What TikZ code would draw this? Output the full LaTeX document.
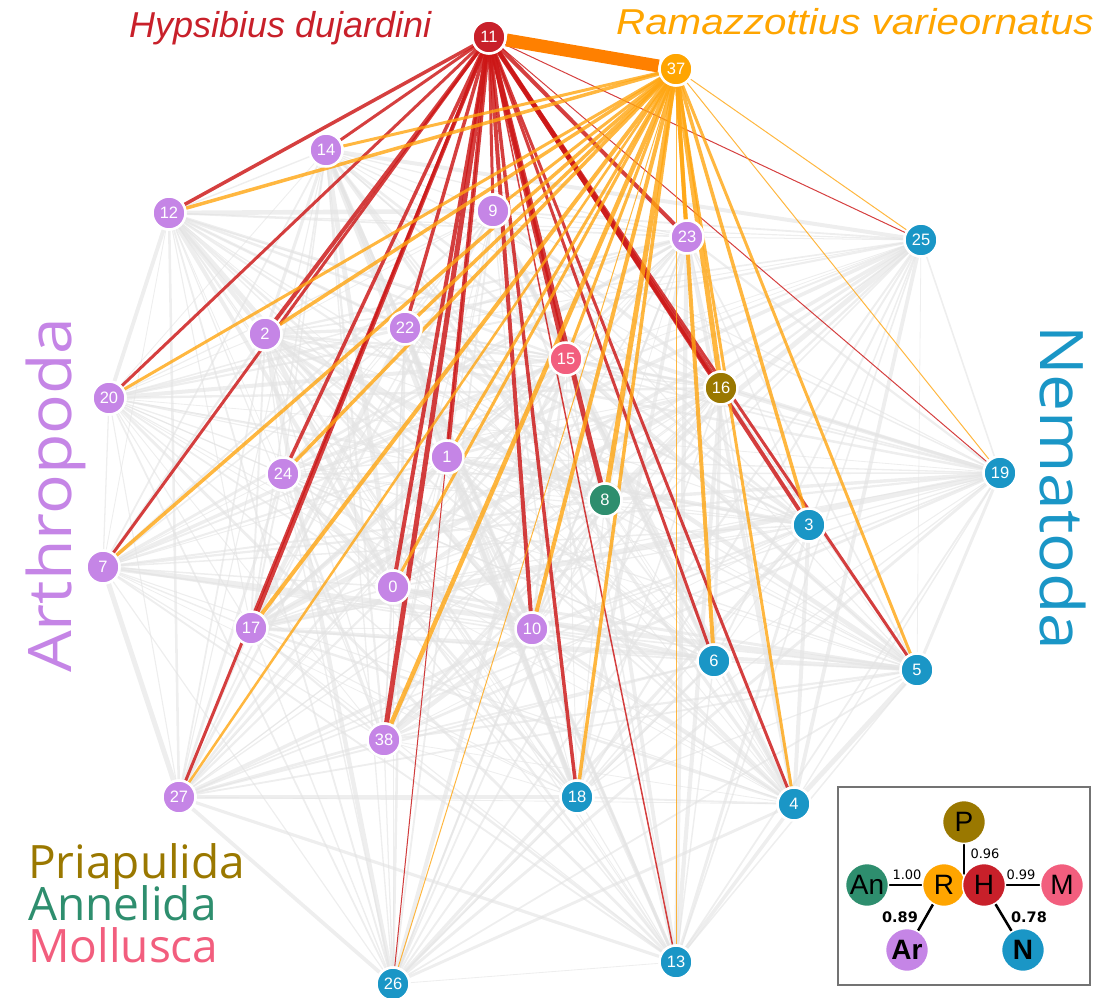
\documentclass[tikz,border=0pt]{standalone}
\usepackage{fontspec}
\setmainfont{Liberation Sans}
\newfontfamily\osans{Open Sans}
\newfontfamily\dvs{DejaVu Sans}
\definecolor{arth}{HTML}{C585E6}
\definecolor{nema}{HTML}{1A96C6}
\definecolor{pria}{HTML}{9A7800}
\definecolor{anne}{HTML}{2E8E6E}
\definecolor{moll}{HTML}{F25E7E}
\definecolor{hyps}{HTML}{C8202A}
\definecolor{ramz}{HTML}{FFA500}
\definecolor{redE}{HTML}{CC1515}
\definecolor{orgE}{HTML}{FFA510}
\definecolor{thickE}{HTML}{FF8000}
\pgfdeclarelayer{bglayer}
\pgfdeclarelayer{edgelayer}
\pgfsetlayers{bglayer,edgelayer,main}
\tikzset{
  nd/.style={circle, minimum size=33pt, inner sep=0pt, draw=white, line width=2.5pt,
    text=white, font=\fontsize{16.5}{16.5}\selectfont},
  grayedge/.style={draw=black!11, opacity=0.6},
  rededge/.style={draw=redE, opacity=0.82},
  orgedge/.style={draw=orgE, opacity=0.8},
  legnode/.style={circle, minimum size=43pt, inner sep=0pt, draw=white, line width=1.5pt,
    text=black, font=\fontsize{28}{28}\selectfont},
  legline/.style={draw=black, line width=2.5pt},
  legnum/.style={font=\dvs\fontsize{13}{13}\selectfont, inner sep=0pt},
  legbold/.style={font=\dvs\bfseries\fontsize{14.5}{14.5}\selectfont, inner sep=0pt},
  bigtext/.style={font=\osans\fontsize{60}{60}\selectfont, inner sep=0pt},
  phylum/.style={font=\osans\fontsize{46}{46}\selectfont, inner sep=0pt, anchor=base west},
  title/.style={font=\itshape\fontsize{36}{36}\selectfont, inner sep=0pt, anchor=base west}
}
\begin{document}
\begin{tikzpicture}[x=1pt,y=-1pt]
\useasboundingbox (0,0) rectangle (1095,998);
% nodes
\node[nd, fill=hyps] (n11) at (489,37) {11};
\node[nd, fill=ramz] (n37) at (676,69) {37};
\node[nd, fill=arth] (n14) at (326,150) {14};
\node[nd, fill=arth] (n12) at (169,213) {12};
\node[nd, fill=arth] (n9) at (493,211) {9};
\node[nd, fill=arth] (n23) at (687,237) {23};
\node[nd, fill=nema] (n25) at (921,240) {25};
\node[nd, fill=arth] (n2) at (265,334) {2};
\node[nd, fill=arth] (n22) at (405,328) {22};
\node[nd, fill=moll] (n15) at (566,359) {15};
\node[nd, fill=pria] (n16) at (721,388) {16};
\node[nd, fill=arth] (n20) at (109,398) {20};
\node[nd, fill=nema] (n19) at (1000,473) {19};
\node[nd, fill=arth] (n1) at (447,457) {1};
\node[nd, fill=arth] (n24) at (283,474) {24};
\node[nd, fill=anne] (n8) at (605,500) {8};
\node[nd, fill=nema] (n3) at (809,525) {3};
\node[nd, fill=arth] (n7) at (103,567) {7};
\node[nd, fill=arth] (n0) at (393,587) {0};
\node[nd, fill=arth] (n17) at (251,628) {17};
\node[nd, fill=arth] (n10) at (532,629) {10};
\node[nd, fill=nema] (n6) at (714,661) {6};
\node[nd, fill=nema] (n5) at (917,670) {5};
\node[nd, fill=arth] (n38) at (384,740) {38};
\node[nd, fill=nema] (n18) at (577,797) {18};
\node[nd, fill=nema] (n4) at (794,804) {4};
\node[nd, fill=arth] (n27) at (179,797) {27};
\node[nd, fill=nema] (n13) at (676,962) {13};
\node[nd, fill=nema] (n26) at (393,984) {26};

\begin{pgfonlayer}{edgelayer}
\pgfmathsetseed{7}
\foreach \a [count=\i] in {14,12,9,23,25,2,22,15,16,20,19,1,24,8,3,7,0,17,10,6,5,38,18,4,27,13,26} {
  \foreach \b [count=\j] in {14,12,9,23,25,2,22,15,16,20,19,1,24,8,3,7,0,17,10,6,5,38,18,4,27,13,26} {
    \ifnum\j>\i
      \pgfmathsetmacro\w{0.8+5.2*rnd*rnd}
      \draw[grayedge, line width=\w pt] (n\a) -- (n\b);
    \fi
  }
}
\foreach \t/\w in {14/3,12/3.5,20/3,2/4,7/3,24/3.5,17/4,27/3,22/3.5,9/3,1/4.5,0/4,38/5,26/1,10/4,15/5,8/5,18/3.5,13/1.5,6/3,4/3,23/4,16/5,3/4,5/3,25/1,19/1}
  \draw[rededge, line width=\w pt] (n11) -- (n\t);
\foreach \t/\w in {14/3,12/3.5,20/3,2/3.5,7/3.5,22/3.5,24/3.5,17/4,27/2.5,9/3,1/3,0/3,38/4.5,26/1,10/4,15/3,8/5,18/3.5,13/1,6/4,4/3,23/4,16/5,3/3.5,5/3,25/1,19/1}
  \draw[orgedge, line width=\w pt] (n37) -- (n\t);
\draw[draw=thickE, line width=13pt] (n11) -- (n37);
\end{pgfonlayer}

% titles
\node[title, text=hyps] (tH) at (129,38) {Hypsibius dujardini};
\node[title, text=ramz] (tR) at (616,35) {\scalebox{1.12}[1]{Ramazzottius varieornatus}};
\node[bigtext, text=arth, rotate=90, anchor=base west] (tA) at (71,673) {\scalebox{1.1}[1]{Arthropoda}};
\node[bigtext, text=nema, rotate=-90, anchor=base west] (tN) at (1040,325) {\scalebox{1.1}[1]{Nematoda}};
\node[phylum, text=pria] (tP) at (28,878) {Priapulida};
\node[phylum, text=anne] (tAn) at (28,920) {Annelida};
\node[phylum, text=moll] (tM) at (28,962) {Mollusca};

% legend
\begin{pgfonlayer}{bglayer}
\draw[draw=black!55, line width=1.3pt, fill=white] (838,787) rectangle (1090,985);
\end{pgfonlayer}
\node[legnode, fill=pria] (P) at (964,822) {P};
\node[legnode, fill=anne] (An) at (867,885) {An};
\node[legnode, fill=ramz] (R) at (944,885) {R};
\node[legnode, fill=hyps] (H) at (984,885) {H};
\node[legnode, fill=moll] (M) at (1062,885) {M};
\node[legnode, fill=arth, font=\bfseries\fontsize{28}{28}\selectfont] (Ar) at (907,950) {Ar};
\node[legnode, fill=nema, font=\bfseries\fontsize{28}{28}\selectfont] (N) at (1023,950) {N};
\coordinate (rh) at (P |- R);
\begin{pgfonlayer}{edgelayer}
\draw[legline] (P) -- (rh);
\draw[legline] (An) -- (R);
\draw[legline] (H) -- (M);
\draw[legline] (R) -- (Ar);
\draw[legline] (H) -- (N);
\end{pgfonlayer}
\node[legnum] (l96) at (985,854) {0.96};
\node[legnum] (l100) at (907,875) {1.00};
\node[legnum] (l99) at (1021,875) {0.99};
\node[legbold] (l89) at (900,917) {0.89};
\node[legbold] (l78) at (1029,917) {0.78};
\end{tikzpicture}
\end{document}
